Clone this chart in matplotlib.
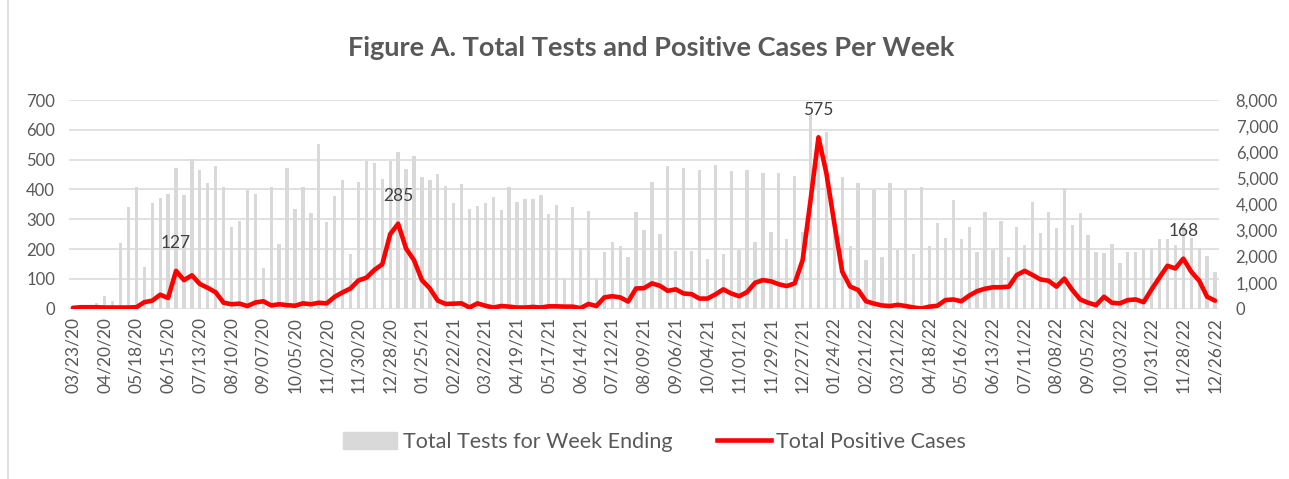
import numpy as np
import pandas as pd
import matplotlib
matplotlib.use('Agg')
import matplotlib.pyplot as plt
from matplotlib.patches import Patch
from matplotlib.lines import Line2D

plt.rcParams['font.family'] = ['Lato', 'DejaVu Sans']

# weekly categories, week ending dates
weeks = pd.date_range('2020-03-23', periods=145, freq='7D')
week_labels = weeks.strftime('%m/%d/%y').tolist()

# Total Tests for Week Ending (right axis)
tests = [40, 60, 80, 230, 480, 290, 2530, 3910, 4650, 1590,
         4060, 4230, 4400, 5410, 4360, 5750, 5320, 4810, 5460, 4680,
         3130, 3360, 4550, 4380, 1550, 4680, 2480, 5380, 3810, 4650,
         3680, 6300, 3310, 4320, 4930, 2100, 4840, 5660, 5590, 4960,
         5670, 6010, 5360, 5850, 5040, 4930, 5180, 4700, 4050, 4780,
         3820, 3940, 4050, 4290, 3770, 4680, 4100, 4190, 4190, 4350,
         3640, 3990, 1130, 3900, 2340, 3730, 1130, 2190, 2560, 2400,
         1970, 3710, 3030, 4840, 2860, 5460, 2210, 5410, 2210, 5300,
         1890, 5500, 2100, 5280, 2250, 5330, 2560, 5190, 2930, 5190,
         2670, 5100, 2930, 7430, 6200, 6770, 3500, 5040, 2390, 4810,
         1870, 4550, 1970, 4830, 2250, 4550, 2100, 4650, 2400, 3300,
         2700, 4170, 2670, 3130, 2160, 3720, 2250, 3370, 1990, 3130,
         2440, 4100, 2890, 3720, 3080, 4610, 3200, 3660, 2810, 2160,
         2120, 2480, 1750, 2160, 2160, 2280, 2340, 2670, 2670, 2440,
         3170, 2720, 2310, 2030, 1420]

# Total Positive Cases (left axis)
cases = [3, 5, 5, 5, 4, 4, 4, 4, 5, 22,
         27, 47, 36, 127, 96, 112, 83, 70, 55, 20,
         15, 17, 9, 21, 25, 11, 15, 12, 10, 18,
         15, 20, 18, 40, 55, 68, 95, 104, 130, 149,
         250, 285, 202, 163, 96, 68, 27, 16, 17, 18,
         4, 18, 10, 4, 9, 7, 4, 4, 6, 4,
         8, 8, 7, 7, 2, 16, 9, 38, 42, 38,
         24, 68, 69, 85, 77, 60, 65, 51, 49, 34,
         34, 48, 65, 51, 42, 56, 87, 96, 92, 82,
         76, 85, 163, 364, 575, 454, 286, 124, 74, 63,
         25, 17, 11, 9, 13, 9, 4, 1, 7, 10,
         29, 31, 25, 44, 59, 67, 72, 72, 74, 113,
         127, 113, 98, 94, 74, 101, 63, 31, 20, 12,
         40, 20, 18, 29, 31, 22, 65, 105, 144, 135,
         168, 124, 94, 40, 27]

# weeks that carry a data label
labelled = [13, 41, 94, 140]

TXT = '#595959'
x = np.arange(len(weeks))

fig = plt.figure(figsize=(12.89, 4.79), dpi=100)
axb = fig.add_axes([0.0535, 0.3555, 0.8922, 0.4357])
axl = axb.twinx()

# bars on the right-hand axis
axb.bar(x, tests, width=0.42, color='#d9d9d9', zorder=2)
axb.set_ylim(0, 8000)
axb.set_yticks(range(0, 8001, 1000))
axb.set_yticklabels([f'{v:,}' for v in range(0, 8001, 1000)])
axb.yaxis.tick_right()
axb.tick_params(axis='y', length=0, pad=12, labelsize=12, labelcolor=TXT)

# line on the left-hand axis
axl.plot(x, cases, color='#ff0000', lw=3.3, solid_joinstyle='round',
         solid_capstyle='round', zorder=3)
axl.set_ylim(0, 700)
axl.set_yticks(range(0, 701, 100))
axl.yaxis.tick_left()
axl.tick_params(axis='y', length=0, pad=10, labelsize=12, labelcolor=TXT)
for i in labelled:
    axl.annotate(str(cases[i]), (x[i], cases[i]), xytext=(0, 20),
                 textcoords='offset points', ha='center', va='center',
                 fontsize=12.5, color='#404040')

# gridlines follow the left scale, drawn behind the bars
for v in range(0, 701, 100):
    axb.axhline(v / 700 * 8000, color='#d9d9d9', lw=1.1, zorder=1)

axb.set_xlim(-0.5, len(weeks) - 0.5)
axb.set_xticks(x[::4])
axb.set_xticklabels(week_labels[::4], rotation=90)
axb.tick_params(axis='x', length=0, pad=6, labelsize=12.5, labelcolor=TXT)

for a in (axb, axl):
    for s in a.spines.values():
        s.set_visible(False)

fig.suptitle('Figure A. Total Tests and Positive Cases Per Week',
             x=0.505, y=0.925, fontsize=19.5, fontweight='bold', color=TXT)

handles = [Patch(color='#d9d9d9'), Line2D([0], [0], color='#ff0000', lw=3.3)]
fig.legend(handles, ['Total Tests for Week Ending', 'Total Positive Cases'],
           loc='center', bbox_to_anchor=(0.508, 0.077), ncol=2, frameon=False,
           fontsize=15.5, labelcolor=TXT, handlelength=2.5, handleheight=0.8,
           handletextpad=0.25, columnspacing=2.1)

# chart frame edge on the left
fig.add_artist(Line2D([0.0062, 0.0062], [0, 1], color='#d9d9d9', lw=1.2))

fig.savefig('out.png', dpi=100)
